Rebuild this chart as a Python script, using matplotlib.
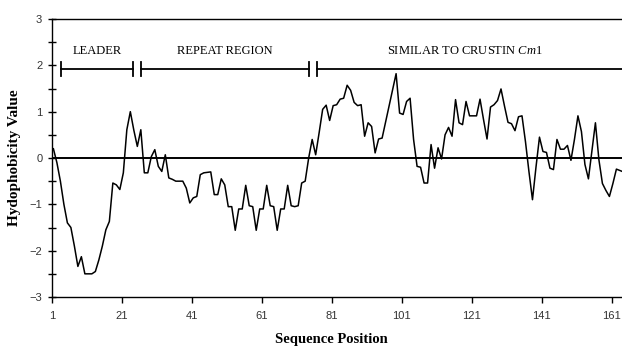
import matplotlib
matplotlib.use("Agg")
import matplotlib.pyplot as plt
import numpy as np

plt.rcParams["mathtext.fontset"] = "custom"
plt.rcParams["mathtext.rm"] = "Liberation Serif"
plt.rcParams["mathtext.it"] = "Liberation Serif:italic"

positions = list(range(1, 165))
hydro = [
    0.2, -0.1, -0.5, -1.0, -1.4, -1.5, -1.9, -2.34, -2.13, -2.5,
    -2.5, -2.5, -2.45, -2.2, -1.9, -1.55, -1.37, -0.54, -0.58, -0.68,
    -0.32, 0.61, 1.0, 0.6, 0.25, 0.61, -0.32, -0.32, 0.03, 0.18,
    -0.18, -0.29, 0.07, -0.43, -0.46, -0.5, -0.5, -0.5, -0.65, -0.97,
    -0.86, -0.83, -0.36, -0.32, -0.31, -0.30, -0.79, -0.79, -0.45, -0.58,
    -1.05, -1.05, -1.56, -1.1, -1.1, -0.59, -1.03, -1.05, -1.56, -1.1,
    -1.1, -0.59, -1.03, -1.05, -1.56, -1.1, -1.1, -0.59, -1.03, -1.05,
    -1.03, -0.54, -0.5, 0.0, 0.4, 0.07, 0.55, 1.05, 1.14, 0.81,
    1.13, 1.15, 1.27, 1.29, 1.57, 1.46, 1.2, 1.13, 1.15, 0.47,
    0.76, 0.68, 0.11, 0.41, 0.43, 0.78, 1.12, 1.47, 1.82, 0.97,
    0.94, 1.22, 1.29, 0.4, -0.18, -0.2, -0.54, -0.54, 0.29, -0.22,
    0.22, -0.02, 0.5, 0.66, 0.47, 1.26, 0.76, 0.72, 1.22, 0.91,
    0.91, 0.91, 1.27, 0.83, 0.41, 1.1, 1.15, 1.24, 1.49, 1.12,
    0.77, 0.74, 0.59, 0.89, 0.91, 0.35, -0.3, -0.9, -0.2, 0.45,
    0.14, 0.12, -0.22, -0.25, 0.4, 0.19, 0.19, 0.27, -0.05, 0.4,
    0.91, 0.57, -0.14, -0.45, 0.15, 0.76, -0.04, -0.55, -0.7, -0.83,
    -0.55, -0.24, -0.27, -0.3,
]
x_ticks = [1, 21, 41, 61, 81, 101, 121, 141, 161]
y_ticks = [-3, -2, -1, 0, 1, 2, 3]
regions = ["LEADER", "REPEAT REGION", "SIMILAR TO CRUSTIN $\\mathit{Cm}$1"]
region_spans = [(3.5, 24.2), (26.4, 74.6), (76.7, 170)]

fig = plt.figure(figsize=(6.22, 3.5), dpi=100)
ax = fig.add_axes([52/622, 1-297/350, 570/622, (297-19)/350])

# points sit slightly right of the category tick, as in the source chart
ax.plot(np.array(positions) + 0.4, hydro, color="black", lw=1.1)
ax.axhline(0, color="black", lw=1.4)

ax.set_xlim(1, 164)
ax.set_ylim(-3, 3)
ax.set_xticks(x_ticks)
ax.set_yticks(y_ticks)
ax.set_yticks(np.arange(-3, 3.01, 0.5), minor=True)
ax.spines["right"].set_visible(False)
for s in ["left", "bottom", "top"]:
    ax.spines[s].set_linewidth(1.0)
ax.tick_params(axis="y", which="both", direction="inout", length=6, width=1.0)
ax.tick_params(axis="y", which="major", labelsize=8, labelcolor="#333333", pad=4)
ax.tick_params(axis="x", direction="out", length=4, width=1.0, labelsize=8,
               labelcolor="#333333", pad=6)
for lbl in ax.get_xticklabels() + ax.get_yticklabels():
    lbl.set_family("Liberation Sans")

fig.text(15/622, 1-158/350, "Hydophobicity Value", rotation=90, ha="center",
         va="center", family="Liberation Serif", fontweight="bold", fontsize=11)
fig.text(331/622, 1-339/350, "Sequence Position", ha="center", va="center",
         family="Liberation Serif", fontweight="bold", fontsize=10.5)

yb = 1.92
hh = 0.16
for name, (a, b) in zip(regions, region_spans):
    ax.plot([a, b], [yb, yb], color="black", lw=1.3, clip_on=False)
    ax.plot([a, a], [yb-hh, yb+hh], color="black", lw=1.3)
    if b < 164:
        ax.plot([b, b], [yb-hh, yb+hh], color="black", lw=1.3)
text_x = [14.0, 50.3, 119.0]
for name, tx in zip(regions, text_x):
    ax.text(tx, 2.32, name, ha="center", va="center", family="Liberation Serif",
            fontsize=9)

fig.savefig("out.png", dpi=100)
